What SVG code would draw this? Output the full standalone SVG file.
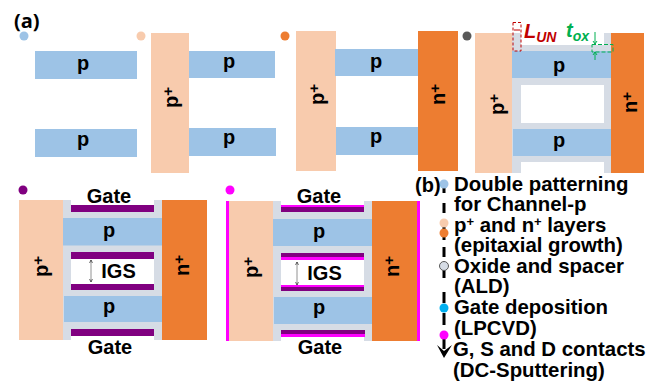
<svg xmlns="http://www.w3.org/2000/svg" width="664" height="385" viewBox="0 0 664 385">
<style>
text{font-family:"Liberation Sans",Arial,sans-serif;font-weight:700;fill:#000}
.p{fill:#9dc3e6}.pp{fill:#f8cbad}.nn{fill:#ed7d31}.ox{fill:#d6dce5}.g{fill:#800080}.m{fill:#ff00ff}
.lb{font-size:20px;text-anchor:middle}
.sm{font-size:20px}
.sm tspan{font-size:15px}
.st{font-size:20.400px}
.st tspan.u{font-size:13px}
.gt{font-size:20px;text-anchor:middle}
.dash{stroke:#000;stroke-width:3;fill:none}
</style>
<defs>
<marker id="a" markerWidth="5" markerHeight="5" refX="4" refY="2.500" orient="auto-start-reverse"><path d="M0 0.500L4 2.500L0 4.500" fill="none" stroke="#000" stroke-width="0.700"/></marker>
</defs>
<text x="14" y="28" font-size="20" style="font-family:'Open Sans',sans-serif">(a)</text>
<g id="step1">
<circle cx="24" cy="36" r="4.500" class="p"/>
<rect x="35" y="51" width="102" height="28" class="p"/><rect x="35" y="129" width="102" height="28" class="p"/>
<text x="83" y="70" class="lb">p</text><text x="83" y="146" class="lb">p</text>
</g>
<g id="step2">
<circle cx="141" cy="36" r="4.500" class="pp"/>
<rect x="151" y="33" width="38" height="140" class="pp"/>
<rect x="189" y="51" width="86" height="27" class="p"/><rect x="189" y="128" width="87" height="28" class="p"/>
<text x="229" y="68" class="lb">p</text><text x="229" y="144" class="lb">p</text>
<text transform="translate(178 108) rotate(-90)" class="sm">p<tspan dy="-5">+</tspan></text>
</g>
<g id="step3">
<circle cx="285" cy="36" r="4.500" class="nn"/>
<rect x="296" y="31" width="40" height="140" class="pp"/>
<rect x="335" y="49" width="83" height="27" class="p"/><rect x="336" y="127" width="82" height="28" class="p"/>
<rect x="418" y="31" width="40" height="140" class="nn"/>
<text x="376" y="68" class="lb">p</text><text x="376" y="143" class="lb">p</text>
<text transform="translate(324 105) rotate(-90)" class="sm">p<tspan dy="-5">+</tspan></text>
<text transform="translate(445 105) rotate(-90)" class="sm">n<tspan dy="-5">+</tspan></text>
</g>
<g id="step4">
<circle cx="467" cy="36" r="4.500" fill="#595959"/>
<rect x="475" y="33" width="38" height="140" class="pp"/>
<rect x="512" y="33" width="9" height="140" class="ox"/><rect x="604" y="33" width="8" height="140" class="ox"/>
<rect x="512" y="45" width="100" height="6" class="ox"/><rect x="513" y="78" width="99" height="7" class="ox"/><rect x="513" y="123" width="99" height="6" class="ox"/><rect x="513" y="156" width="99" height="6" class="ox"/>
<rect x="512" y="51" width="99" height="27" class="p"/><rect x="513" y="129" width="98" height="27" class="p"/>
<rect x="611" y="33" width="33" height="140" class="nn"/>
<text x="559" y="72" class="lb">p</text><text x="559" y="147" class="lb">p</text>
<text transform="translate(504 115) rotate(-90)" class="sm">p<tspan dy="-5">+</tspan></text>
<text transform="translate(637 113) rotate(-90)" class="sm">n<tspan dy="-5">+</tspan></text>
<rect x="513" y="22.500" width="8" height="28.500" fill="none" stroke="#c00000" stroke-dasharray="3 2"/>
<path d="M514 30H520" stroke="#c00000"/>
<text x="524" y="38" font-size="20" style="fill:#c00000;font-style:italic">L<tspan dy="4" font-size="14">UN</tspan></text>
<text x="566" y="37" font-size="20" style="fill:#00b050;font-style:italic">t<tspan dy="4" font-size="14">ox</tspan></text>
<rect x="592" y="44.500" width="21" height="7.500" stroke="#00b050" stroke-dasharray="4 2" fill="none"/>
<path d="M595 32V44M595 52V60" stroke="#00b050" fill="none"/>
<path d="M593 41L595 44L597 41M593 55L595 52L597 55" stroke="#00b050" fill="none"/>
</g>
<g id="step5">
<circle cx="23" cy="190" r="4.500" class="g"/>
<rect x="19" y="200" width="44" height="140" class="pp"/>
<rect x="63" y="200" width="8" height="140" class="ox"/><rect x="154" y="200" width="8" height="140" class="ox"/>
<rect x="63" y="212" width="99" height="6" class="ox"/><rect x="63" y="245" width="99" height="8" class="ox"/><rect x="63" y="289" width="99" height="8" class="ox"/><rect x="63" y="322" width="99" height="8" class="ox"/>
<rect x="63" y="218" width="99" height="27.500" class="p"/><rect x="64" y="296" width="98" height="26" class="p"/>
<rect x="71" y="205" width="83" height="7" class="g"/><rect x="71" y="252" width="83" height="7" class="g"/><rect x="71" y="284" width="83" height="6" class="g"/><rect x="71" y="329" width="83" height="7" class="g"/>
<rect x="162" y="200" width="45" height="140" class="nn"/>
<text x="109" y="203" class="gt">Gate</text><text x="110" y="354" class="gt">Gate</text>
<text x="109" y="237" class="lb">p</text><text x="109" y="313" class="lb">p</text>
<text x="118.500" y="278" class="gt">IGS</text>
<path d="M91 260V282" stroke="#777" stroke-width="0.800" marker-start="url(#a)" marker-end="url(#a)"/>
<text transform="translate(48 277) rotate(-90)" class="sm">p<tspan dy="-5">+</tspan></text>
<text transform="translate(189 276) rotate(-90)" class="sm">n<tspan dy="-5">+</tspan></text>
</g>
<g id="step6">
<circle cx="230" cy="190" r="4.500" class="m"/>
<rect x="226" y="201" width="3" height="140" class="m"/>
<rect x="229" y="201" width="44" height="140" class="pp"/>
<rect x="273" y="201" width="8" height="140" class="ox"/><rect x="364" y="201" width="8" height="140" class="ox"/>
<rect x="273" y="212" width="99" height="7" class="ox"/><rect x="273" y="246" width="99" height="8" class="ox"/><rect x="273" y="290" width="99" height="8" class="ox"/><rect x="273" y="323" width="99" height="8" class="ox"/>
<rect x="273" y="219" width="99" height="27" class="p"/><rect x="274" y="297" width="98" height="27" class="p"/>
<rect x="281" y="205" width="83" height="3" class="m"/><rect x="281" y="207" width="83" height="5" class="g"/>
<rect x="281" y="253" width="83" height="4" class="g"/><rect x="281" y="257" width="83" height="3" class="m"/>
<rect x="281" y="285" width="83" height="2" class="m"/><rect x="281" y="287" width="83" height="4" class="g"/>
<rect x="281" y="330" width="84" height="4" class="g"/><rect x="281" y="334" width="84" height="3" class="m"/>
<rect x="372" y="201" width="45" height="140" class="nn"/><rect x="417" y="201" width="3" height="140" class="m"/>
<text x="319" y="203" class="gt">Gate</text><text x="320" y="354" class="gt">Gate</text>
<text x="319" y="238" class="lb">p</text><text x="319" y="314" class="lb">p</text>
<text x="324.500" y="280" class="gt">IGS</text>
<path d="M297 262V285" stroke="#777" stroke-width="0.800" marker-start="url(#a)" marker-end="url(#a)"/>
<text transform="translate(258 278) rotate(-90)" class="sm">p<tspan dy="-5">+</tspan></text>
<text transform="translate(399 277) rotate(-90)" class="sm">n<tspan dy="-5">+</tspan></text>
</g>
<g id="connectors">
<path d="M444 188V193M444 203V213M444 227V240M444 247V257M444 270V278M444 292V303M444 313V325M444 339V349" class="dash"/>
<path d="M437 345L444 358L452 345L444 351Z" fill="#000"/>
</g>
<g id="timeline">
<circle cx="444" cy="184" r="4.500" class="p"/><circle cx="444" cy="223" r="4.500" class="pp"/><circle cx="444" cy="233" r="4.500" class="nn"/>
<circle cx="444" cy="266" r="4.500" class="ox" stroke="#595959"/><circle cx="444" cy="308" r="4.500" fill="#00b0f0"/><circle cx="444" cy="335" r="4.500" class="m"/>
</g>
<text x="415" y="192" font-size="20">(b)</text>
<g id="legend">
<text x="454" y="191" class="st">Double patterning</text>
<text x="454" y="211" class="st">for Channel-p</text>
<text x="454" y="232" class="st">p<tspan class="u" dy="-6">+</tspan><tspan dy="6"> and n</tspan><tspan class="u" dy="-6">+</tspan><tspan dy="6"> layers</tspan></text>
<text x="454" y="252" class="st">(epitaxial growth)</text>
<text x="454" y="273" class="st">Oxide and spacer</text>
<text x="454" y="293" class="st">(ALD)</text>
<text x="454" y="314" class="st">Gate deposition</text>
<text x="454" y="335" class="st">(LPCVD)</text>
<text x="453" y="356" class="st">G, S and D contacts</text>
<text x="453" y="377" class="st">(DC-Sputtering)</text>
</g>
</svg>
